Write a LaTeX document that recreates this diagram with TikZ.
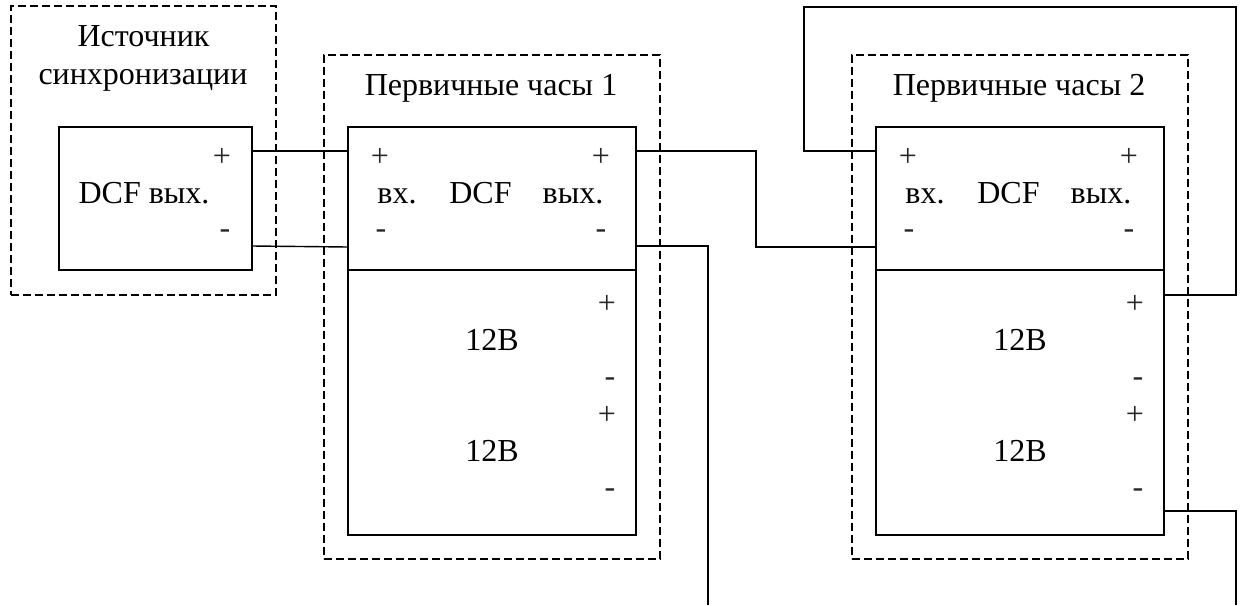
\documentclass[tikz,border=0pt]{standalone}
\usepackage{fontspec}
\setmainfont{Liberation Serif}
\tikzset{
  solidbox/.style={draw=black,line width=1.4pt,rectangle,inner sep=0pt,outer sep=0pt},
  dashbox/.style={draw=black,line width=1.3pt,rectangle,inner sep=0pt,outer sep=0pt,dash pattern=on 8pt off 4pt},
  wire/.style={draw=black,line width=1.4pt,line join=miter},
  lbl/.style={anchor=base,inner sep=0pt,outer sep=0pt,font=\fontsize{32}{36}\selectfont,text=black},
  sgn/.style={anchor=base,inner sep=0pt,outer sep=0pt,font=\fontsize{32}{36}\selectfont,text=black!85},
}
\begin{document}
\begin{tikzpicture}[x=1pt,y=-1pt]
\useasboundingbox (0,0) rectangle (1242,605);
% source
\node[dashbox,minimum width=265pt,minimum height=289pt] (srcd) at (143.5,150.5) {};
\node[solidbox,minimum width=193pt,minimum height=143pt] (src) at (155.5,198.5) {};
\node[lbl] (t1) at (143.5,46) {Источник};
\node[lbl] (t2) at (143,84) {синхронизации};
\node[lbl] (t3) at (144,203) {DCF вых.};
\node[sgn] (sp) at (222,166) {+};
\node[sgn] (sm) at (225,238) {-};
\coordinate (srcP) at (252,151);
\coordinate (srcM) at (252,246);
% clocks
\foreach \n/\o in {1/0,2/528}{
  \node[dashbox,minimum width=336pt,minimum height=504pt] (d\n) at (492+\o,307) {};
  \node[solidbox,minimum width=288pt,minimum height=143pt] (u\n) at (492+\o,198.5) {};
  \node[solidbox,minimum width=288pt,minimum height=265pt] (l\n) at (492+\o,402.5) {};
  \node[lbl] (title\n) at (491+\o,95) {Первичные часы \n};
  \node[lbl] (vx\n) at (397+\o,203) {вх.};
  \node[lbl] (dcf\n) at (480.5+\o,203) {DCF};
  \node[lbl] (vy\n) at (573+\o,203) {вых.};
  \node[sgn] (ip\n) at (380+\o,166) {+};
  \node[sgn] (op\n) at (601+\o,166) {+};
  \node[sgn] (im\n) at (381+\o,238) {-};
  \node[sgn] (om\n) at (601+\o,238) {-};
  \node[lbl] (va\n) at (492+\o,350) {12В};
  \node[lbl] (vb\n) at (492+\o,461) {12В};
  \node[sgn] (ap\n) at (607+\o,313) {+};
  \node[sgn] (am\n) at (610+\o,386) {-};
  \node[sgn] (bp\n) at (607+\o,424) {+};
  \node[sgn] (bm\n) at (610+\o,497) {-};
  \coordinate (inP\n) at (348+\o,151);
  \coordinate (inM\n) at (348+\o,247);
  \coordinate (outP\n) at (636+\o,151);
  \coordinate (outM\n) at (636+\o,246);
}
\coordinate (aP) at (1164,295);
\coordinate (bM) at (1164,511);
\coordinate (end1) at (708,605);
\coordinate (end2) at (1236,605);
% connectors
\draw[wire] (srcP) -- (inP1);
\draw[wire] (srcM) -- (inM1);
\draw[wire] (outP1) -| (756,247) -- (inM2);
\draw[wire] (outM1) -| (end1);
\draw[wire] (inP2) -| (804,7) -| (1236,295) -- (aP);
\draw[wire] (bM) -| (end2);
\end{tikzpicture}
\end{document}
